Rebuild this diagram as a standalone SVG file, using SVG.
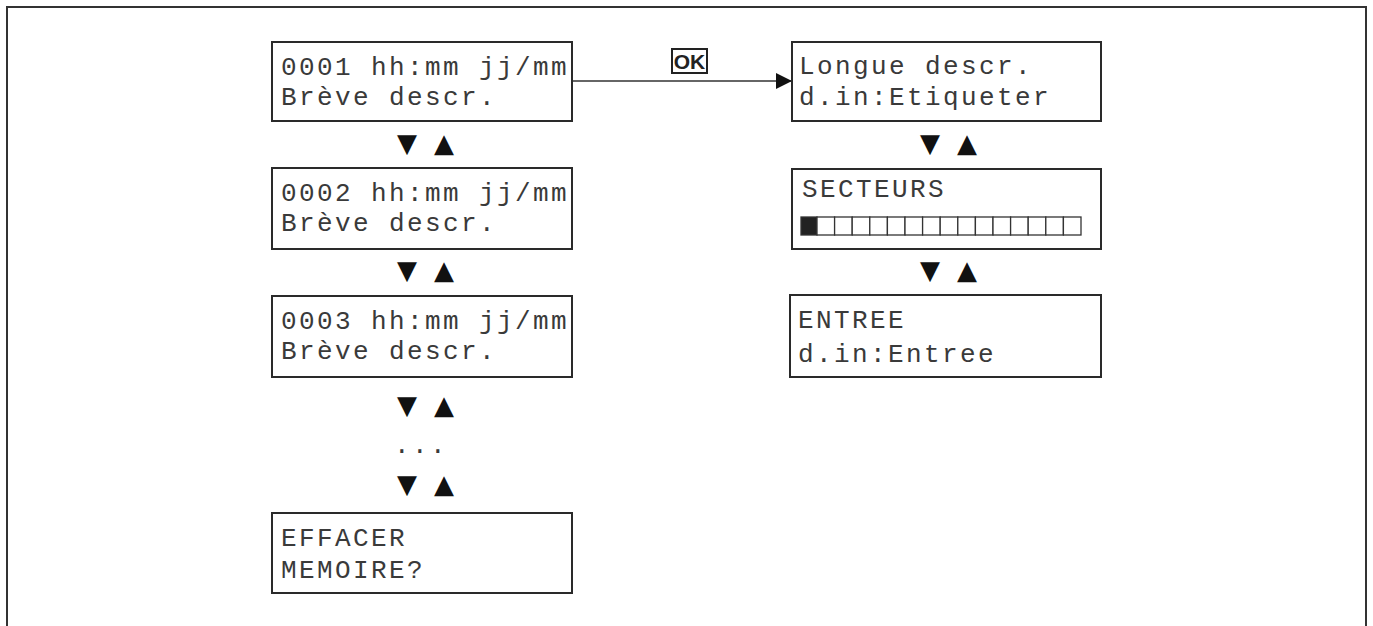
<svg xmlns="http://www.w3.org/2000/svg" width="1373" height="626" viewBox="0 0 1373 626">
<style>
.box{fill:#fff;stroke:#2a2a2a;stroke-width:2}
.t{font-family:"Liberation Mono","Courier New",monospace;font-size:26px;letter-spacing:2.4px;fill:#3a3a3a}
.tri{font-family:"DejaVu Sans",sans-serif;font-size:26px;fill:#111}
.frame{fill:none;stroke:#333;stroke-width:2}
.cell{fill:#fff;stroke:#333;stroke-width:1.3}
</style>
<defs>
<marker id="ah" markerWidth="16" markerHeight="16" refX="16" refY="8" orient="auto" markerUnits="userSpaceOnUse">
<path d="M0,0 L16,8 L0,16 Z" fill="#111"/>
</marker>
</defs>
<path class="frame" d="M7,626 V7 H1366 V626"/>
<g id="connectors">
<line x1="572" y1="81" x2="792" y2="81" stroke="#333" stroke-width="1.5" marker-end="url(#ah)"/>
<rect x="672" y="49" width="35" height="24" fill="#fff" stroke="#222" stroke-width="2"/>
<text x="689.5" y="69" text-anchor="middle" font-family="Liberation Sans,Arial,sans-serif" font-weight="bold" font-size="21" fill="#222">OK</text>
</g>
<g id="nav">
<text class="tri" x="407" y="152" text-anchor="middle">▼</text>
<text class="tri" x="444" y="152" text-anchor="middle">▲</text>
<text class="tri" x="407" y="279" text-anchor="middle">▼</text>
<text class="tri" x="444" y="279" text-anchor="middle">▲</text>
<text class="tri" x="407" y="414" text-anchor="middle">▼</text>
<text class="tri" x="444" y="414" text-anchor="middle">▲</text>
<text class="t" x="421" y="453" text-anchor="middle">...</text>
<text class="tri" x="407" y="493" text-anchor="middle">▼</text>
<text class="tri" x="444" y="493" text-anchor="middle">▲</text>
<text class="tri" x="930" y="152" text-anchor="middle">▼</text>
<text class="tri" x="967" y="152" text-anchor="middle">▲</text>
<text class="tri" x="930" y="279" text-anchor="middle">▼</text>
<text class="tri" x="967" y="279" text-anchor="middle">▲</text>
</g>
<g id="n1">
<rect class="box" x="272" y="42" width="300" height="79"/>
<text class="t" x="281" y="75">0001 hh:mm jj/mm</text>
<text class="t" x="281" y="105">Brève descr.</text>
</g>
<g id="n2">
<rect class="box" x="272" y="168" width="300" height="81"/>
<text class="t" x="281" y="201">0002 hh:mm jj/mm</text>
<text class="t" x="281" y="231">Brève descr.</text>
</g>
<g id="n3">
<rect class="box" x="272" y="296" width="300" height="81"/>
<text class="t" x="281" y="329">0003 hh:mm jj/mm</text>
<text class="t" x="281" y="359">Brève descr.</text>
</g>
<g id="n4">
<rect class="box" x="272" y="513" width="300" height="80"/>
<text class="t" x="281" y="546">EFFACER</text>
<text class="t" x="281" y="578">MEMOIRE?</text>
</g>
<g id="r1">
<rect class="box" x="792" y="42" width="309" height="79"/>
<text class="t" x="799" y="74">Longue descr.</text>
<text class="t" x="799" y="105">d.in:Etiqueter</text>
</g>
<g id="r2">
<rect class="box" x="792" y="169" width="309" height="80"/>
<text class="t" x="802" y="197">SECTEURS</text>
<rect x="801" y="217" width="16" height="18" fill="#222" stroke="#333" stroke-width="1.3"/>
<rect class="cell" x="817" y="217" width="17.6" height="18"/>
<rect class="cell" x="834.6" y="217" width="17.6" height="18"/>
<rect class="cell" x="852.2" y="217" width="17.6" height="18"/>
<rect class="cell" x="869.8" y="217" width="17.6" height="18"/>
<rect class="cell" x="887.4" y="217" width="17.6" height="18"/>
<rect class="cell" x="905" y="217" width="17.6" height="18"/>
<rect class="cell" x="922.6" y="217" width="17.6" height="18"/>
<rect class="cell" x="940.2" y="217" width="17.6" height="18"/>
<rect class="cell" x="957.8" y="217" width="17.6" height="18"/>
<rect class="cell" x="975.4" y="217" width="17.6" height="18"/>
<rect class="cell" x="993" y="217" width="17.6" height="18"/>
<rect class="cell" x="1010.6" y="217" width="17.6" height="18"/>
<rect class="cell" x="1028.2" y="217" width="17.6" height="18"/>
<rect class="cell" x="1045.8" y="217" width="17.6" height="18"/>
<rect class="cell" x="1063.4" y="217" width="17.6" height="18"/>
</g>
<g id="r3">
<rect class="box" x="790" y="295" width="311" height="82"/>
<text class="t" x="798" y="328">ENTREE</text>
<text class="t" x="798" y="362">d.in:Entree</text>
</g>
</svg>
